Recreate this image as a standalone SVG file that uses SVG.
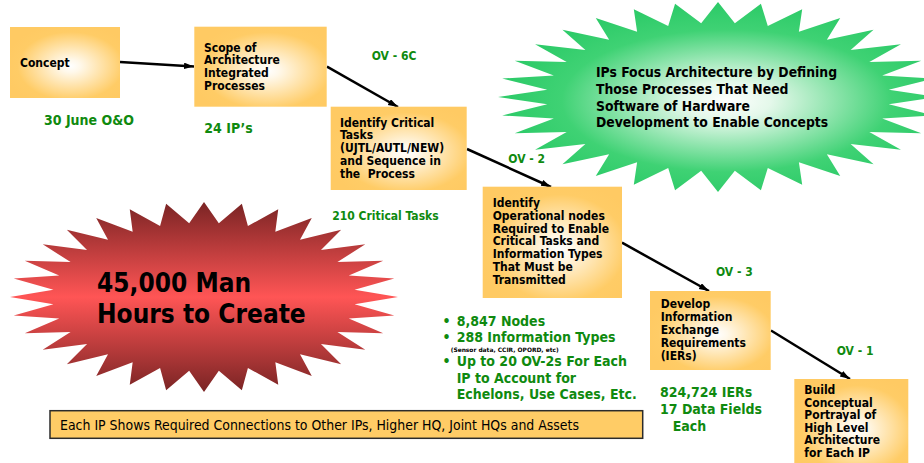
<svg xmlns="http://www.w3.org/2000/svg" width="924" height="463" viewBox="0 0 924 463">
  <defs>
    <style>
      .t { font-family: "DejaVu Sans Condensed", "DejaVu Sans", sans-serif; font-stretch: condensed; font-weight: bold; }
      .box { fill: url(#boxFill); }
      .lbl { fill: #0f8a0f; font-size: 14px; }
      .ov { fill: #0f8a0f; font-size: 12px; }
      .node { font-size: 12px; fill: #000; }
      .conn { stroke: #000; stroke-width: 2.5; fill: none; marker-end: url(#head); }
    </style>
    <radialGradient id="boxFill" cx="0.55" cy="0.55" r="0.6">
      <stop offset="0" stop-color="#ffffff"/>
      <stop offset="0.15" stop-color="#fff8ea"/>
      <stop offset="0.8" stop-color="#ffcc66"/>
      <stop offset="1" stop-color="#ffca63"/>
    </radialGradient>
    <linearGradient id="redFill" x1="0" y1="0" x2="0" y2="1">
      <stop offset="0" stop-color="#7a2424"/>
      <stop offset="0.5" stop-color="#ff5555"/>
      <stop offset="1" stop-color="#7a2424"/>
    </linearGradient>
    <radialGradient id="greenFill" cx="0.52" cy="0.52" r="0.5">
      <stop offset="0" stop-color="#ffffff"/>
      <stop offset="0.2" stop-color="#e4f8ea"/>
      <stop offset="0.75" stop-color="#3fd274"/>
      <stop offset="1" stop-color="#2ecb69"/>
    </radialGradient>
    <marker id="head" markerUnits="userSpaceOnUse" markerWidth="11" markerHeight="8" refX="10" refY="3.25" orient="auto">
      <path d="M0,0 L10,3.25 L0,6.5 Z" fill="#000"/>
    </marker>
    <!-- 32-point star, outer radius 100, inner radius 78 -->
    <path id="star32" d="M0,-100 L7.65,-77.62 L19.51,-98.08 L22.64,-74.64 L38.27,-92.39 L36.77,-68.79 L55.56,-83.15 L49.48,-60.29 L70.71,-70.71 L60.29,-49.48 L83.15,-55.56 L68.79,-36.77 L92.39,-38.27 L74.64,-22.64 L98.08,-19.51 L77.62,-7.65 L100,0 L77.62,7.65 L98.08,19.51 L74.64,22.64 L92.39,38.27 L68.79,36.77 L83.15,55.56 L60.29,49.48 L70.71,70.71 L49.48,60.29 L55.56,83.15 L36.77,68.79 L38.27,92.39 L22.64,74.64 L19.51,98.08 L7.65,77.62 L0,100 L-7.65,77.62 L-19.51,98.08 L-22.64,74.64 L-38.27,92.39 L-36.77,68.79 L-55.56,83.15 L-49.48,60.29 L-70.71,70.71 L-60.29,49.48 L-83.15,55.56 L-68.79,36.77 L-92.39,38.27 L-74.64,22.64 L-98.08,19.51 L-77.62,7.65 L-100,0 L-77.62,-7.65 L-98.08,-19.51 L-74.64,-22.64 L-92.39,-38.27 L-68.79,-36.77 L-83.15,-55.56 L-60.29,-49.48 L-70.71,-70.71 L-49.48,-60.29 L-55.56,-83.15 L-36.77,-68.79 L-38.27,-92.39 L-22.64,-74.64 L-19.51,-98.08 L-7.65,-77.62 Z"/>
  </defs>

  <rect width="924" height="463" fill="#ffffff"/>

  <!-- starburst callouts -->
  <g id="burst-hours">
    <use href="#star32" transform="translate(204,297) scale(1.94,0.95)" fill="url(#redFill)"/>
    <text class="t" font-size="26" fill="#000">
      <tspan x="97" y="292">45,000 Man</tspan>
      <tspan x="97" y="323">Hours to Create</tspan>
    </text>
  </g>

  <g id="burst-focus">
    <use href="#star32" transform="translate(718,97) scale(2.2,0.95)" fill="url(#greenFill)"/>
    <text class="t" font-size="13.8" fill="#000">
      <tspan x="596" y="77.3">IPs Focus Architecture by Defining</tspan>
      <tspan x="596" y="94">Those Processes That Need</tspan>
      <tspan x="596" y="110.7">Software of Hardware</tspan>
      <tspan x="596" y="127.3">Development to Enable Concepts</tspan>
    </text>
  </g>

  <!-- connectors -->
  <g id="connectors">
    <line class="conn" x1="120" y1="62" x2="194" y2="66.5"/>
    <line class="conn" x1="327" y1="66.7" x2="398" y2="107"/>
    <line class="conn" x1="467" y1="149" x2="551" y2="187"/>
    <line class="conn" x1="622" y1="242.7" x2="709" y2="291"/>
    <line class="conn" x1="771" y1="330.5" x2="850" y2="379"/>
  </g>

  <!-- process boxes -->
  <g id="concept">
    <rect class="box" x="10" y="27" width="110" height="71"/>
    <text class="t node" x="20" y="67">Concept</text>
  </g>

  <g id="scope">
    <rect class="box" x="194.3" y="26.7" width="132.4" height="80"/>
    <text class="t node">
      <tspan x="204" y="51.7">Scope of</tspan>
      <tspan x="204" y="64.3">Architecture</tspan>
      <tspan x="204" y="77">Integrated</tspan>
      <tspan x="204" y="89.6">Processes</tspan>
    </text>
  </g>

  <g id="critical-tasks">
    <rect class="box" x="330.7" y="106.7" width="136" height="83.3"/>
    <text class="t node" xml:space="preserve"><tspan x="340" y="126.7">Identify Critical</tspan><tspan x="340" y="139.4">Tasks</tspan><tspan x="340" y="152.1">(UJTL/AUTL/NEW)</tspan><tspan x="340" y="164.8">and Sequence in</tspan><tspan x="340" y="177.5">the  Process</tspan></text>
  </g>

  <g id="operational-nodes">
    <rect class="box" x="482.7" y="186.7" width="139.3" height="111.3"/>
    <text class="t node" font-size="11.8">
      <tspan x="492.7" y="207.3">Identify</tspan>
      <tspan x="492.7" y="220">Operational nodes</tspan>
      <tspan x="492.7" y="232.7">Required to Enable</tspan>
      <tspan x="492.7" y="245.4">Critical Tasks and</tspan>
      <tspan x="492.7" y="258.1">Information Types</tspan>
      <tspan x="492.7" y="270.8">That Must be</tspan>
      <tspan x="492.7" y="283.5">Transmitted</tspan>
    </text>
  </g>

  <g id="ier">
    <rect class="box" x="650" y="291" width="120.7" height="79"/>
    <text class="t node">
      <tspan x="660.7" y="308.3">Develop</tspan>
      <tspan x="660.7" y="321.3">Information</tspan>
      <tspan x="660.7" y="334.3">Exchange</tspan>
      <tspan x="660.7" y="347.3">Requirements</tspan>
      <tspan x="660.7" y="360.3">(IERs)</tspan>
    </text>
  </g>

  <g id="conceptual-portrayal">
    <rect class="box" x="794.3" y="379" width="114" height="92"/>
    <text class="t node">
      <tspan x="804.3" y="394">Build</tspan>
      <tspan x="804.3" y="406.6">Conceptual</tspan>
      <tspan x="804.3" y="419.2">Portrayal of</tspan>
      <tspan x="804.3" y="431.8">High Level</tspan>
      <tspan x="804.3" y="444.4">Architecture</tspan>
      <tspan x="804.3" y="457">for Each IP</tspan>
    </text>
  </g>

  <!-- view labels and counts -->
  <g id="annotations">
    <text class="t lbl" x="44" y="125">30 June O&amp;O</text>
    <text class="t lbl" x="204.3" y="133.3">24 IP’s</text>
    <text class="t ov" x="371.7" y="60">OV - 6C</text>
    <text class="t ov" x="332.3" y="220">210 Critical Tasks</text>
    <text class="t ov" x="508.3" y="163.3">OV - 2</text>
    <text class="t ov" x="716" y="276">OV - 3</text>
    <text class="t ov" x="836.7" y="355">OV - 1</text>
    <text class="t lbl">
      <tspan x="660" y="397.3">824,724 IERs</tspan>
      <tspan x="660" y="414">17 Data Fields</tspan>
      <tspan x="672.7" y="430.5">Each</tspan>
    </text>
  </g>

  <g id="ov2-stats">
    <text class="t lbl" font-size="13.5">
      <tspan x="442.5" y="325.7">•</tspan>
      <tspan x="456.7" y="325.7">8,847 Nodes</tspan>
      <tspan x="442.5" y="341.7">•</tspan>
      <tspan x="456.7" y="341.7">288 Information Types</tspan>
      <tspan x="442.5" y="366">•</tspan>
      <tspan x="456.7" y="366">Up to 20 OV-2s For Each</tspan>
      <tspan x="456.7" y="382.7">IP to Account for</tspan>
      <tspan x="456.7" y="399.3">Echelons, Use Cases, Etc.</tspan>
    </text>
    <text class="t" font-size="6" fill="#000" x="450.7" y="351.7" textLength="108" lengthAdjust="spacingAndGlyphs">(Sensor data, CCIR, OPORD, etc)</text>
  </g>

  <g id="connections-note">
    <rect x="50" y="410.7" width="592.7" height="27.6" fill="#ffcc66" stroke="#2b2b2b" stroke-width="1.5"/>
    <text x="60" y="430" font-family="'DejaVu Sans Condensed', 'DejaVu Sans', sans-serif" font-stretch="condensed" font-size="14" fill="#000" textLength="519" lengthAdjust="spacingAndGlyphs">Each IP Shows Required Connections to Other IPs, Higher HQ, Joint HQs and Assets</text>
  </g>
</svg>
